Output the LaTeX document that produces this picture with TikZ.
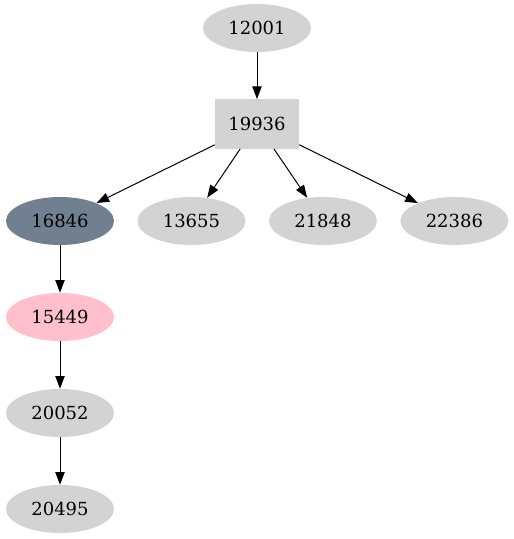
\documentclass[tikz,border=0pt]{standalone}
\usepackage{fontspec}
\setmainfont{DejaVu Serif}
\usetikzlibrary{arrows.meta,shapes.geometric}
\definecolor{lightgray}{HTML}{D3D3D3}
\definecolor{slategray}{HTML}{708090}
\definecolor{pink}{HTML}{FFC0CB}
\begin{document}
\begin{tikzpicture}[x=0.75pt, y=-0.75pt, node distance=72pt,
  font=\fontsize{13.5}{16}\selectfont,
  oval/.style={ellipse, fill=lightgray, minimum width=81pt, minimum height=36pt, inner sep=0pt},
  boxnode/.style={rectangle, fill=lightgray, minimum width=63pt, minimum height=37pt},
  edge/.style={-{Triangle[length=9.5pt, width=7pt]}, line width=0.75pt}]
\useasboundingbox (0,0) rectangle (514,539);
% Define the nodes
\node (n12001) [oval] at (257,28) {12001};
\node (n19936) [boxnode, below of=n12001] {19936};
\node (n16846) [oval, fill=slategray] at (60,221) {16846};
\node (n13655) [oval, right of=n16846, node distance=98.6pt] {13655};
\node (n21848) [oval, right of=n13655, node distance=98.6pt] {21848};
\node (n22386) [oval, right of=n21848, node distance=98.6pt] {22386};
\node (n15449) [oval, fill=pink, below of=n16846] {15449};
\node (n20052) [oval, below of=n15449] {20052};
\node (n20495) [oval, below of=n20052] {20495};

% Connect the nodes
\draw[edge] (n12001) -- (n19936);
\draw[edge] (n19936) -- (n16846);
\draw[edge] (n19936) -- (n13655);
\draw[edge] (n19936) -- (n21848);
\draw[edge] (n19936) -- (n22386);
\draw[edge] (n16846) -- (n15449);
\draw[edge] (n15449) -- (n20052);
\draw[edge] (n20052) -- (n20495);
\end{tikzpicture}
\end{document}
